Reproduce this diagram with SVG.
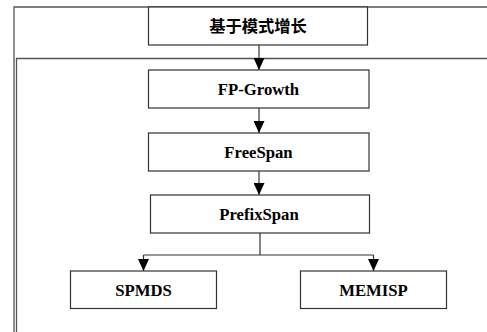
<svg xmlns="http://www.w3.org/2000/svg" width="487" height="332" viewBox="0 0 487 332">
<style>
.box{fill:#fff;stroke:#333;stroke-width:1.2}
.frame{fill:none;stroke:#555;stroke-width:1.3}
.lbl{font-family:"Liberation Serif","Noto Sans CJK SC",serif;font-weight:bold;font-size:16.7px;fill:#000;text-anchor:middle}
.zh{font-family:"Noto Sans CJK SC","Liberation Serif",sans-serif;font-weight:bold;font-size:16.3px;fill:#000;text-anchor:middle}
.con{fill:none;stroke:#333;stroke-width:1.2}
</style>
<defs>
<marker id="ah" markerWidth="12" markerHeight="11" refX="12" refY="5.5" orient="auto" markerUnits="userSpaceOnUse">
<path d="M0,0 L12,5.5 L0,11 Z" fill="#000"/>
</marker>
</defs>
<rect width="487" height="332" fill="#fff"/>
<g id="frames">
<path class="frame" d="M488,7 H14 V332"/>
<path class="frame" d="M488,58.5 H16.5 V332"/>
</g>
<g id="connectors">
<path class="con" d="M259,45 V70" marker-end="url(#ah)"/>
<path class="con" d="M259,108 V133" marker-end="url(#ah)"/>
<path class="con" d="M259,171 V195" marker-end="url(#ah)"/>
<path class="con" d="M260,233 V255"/>
<path class="con" d="M143.5,255 H373.5"/>
<path class="con" d="M143.5,255 V271" marker-end="url(#ah)"/>
<path class="con" d="M373.5,255 V271" marker-end="url(#ah)"/>
</g>
<g id="n0">
<rect class="box" x="148.5" y="7" width="219" height="38"/>
<text class="zh" x="258" y="32">基于模式增长</text>
</g>
<g id="n1">
<rect class="box" x="148.5" y="70" width="220.5" height="38"/>
<text class="lbl" x="258.5" y="94.5">FP-Growth</text>
</g>
<g id="n2">
<rect class="box" x="148.5" y="133" width="220.5" height="38"/>
<text class="lbl" x="258.5" y="157.5">FreeSpan</text>
</g>
<g id="n3">
<rect class="box" x="150.5" y="195" width="219" height="38"/>
<text class="lbl" x="259" y="219.5">PrefixSpan</text>
</g>
<g id="n4">
<rect class="box" x="70.5" y="271" width="146" height="37.5"/>
<text class="lbl" x="143.5" y="296">SPMDS</text>
</g>
<g id="n5">
<rect class="box" x="300.5" y="271" width="146" height="37.5"/>
<text class="lbl" x="373.5" y="296">MEMISP</text>
</g>
</svg>
